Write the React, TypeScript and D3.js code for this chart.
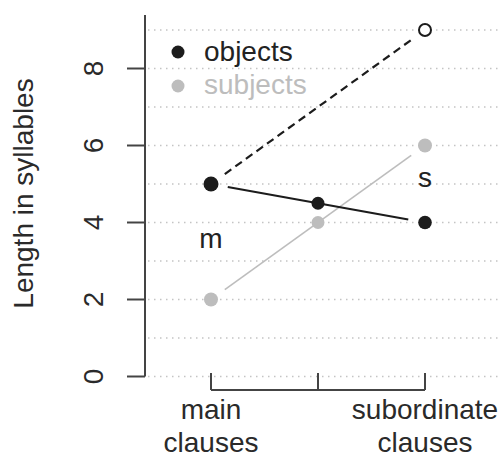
import React from "react";
import * as d3 from "d3";

const categories = ["main", "middle", "subordinate"];
const categoryLabels: Record<string, string[]> = {
  main: ["main", "clauses"],
  middle: [],
  subordinate: ["subordinate", "clauses"],
};
const objectsValues = [5, 4.5, 4];
const subjectsValues = [2, 4, 6];
const predictedValue = 9; // open circle, dashed from main objects
const yTicks = [0, 2, 4, 6, 8];
const gridValues = [0, 1, 2, 3, 4, 5, 6, 7, 8, 9];
const seriesNames = ["objects", "subjects"];
const pointLabels = [
  { text: "m", cat: "main", value: 3.33 },
  { text: "s", cat: "subordinate", value: 4.93 },
];

const W = 502;
const H = 457;
const BLACK = "#1c1c1c";
const GRAY = "#bdbdbd";
const AXIS = "#444";
const FONT = "'Liberation Sans', Arial, Helvetica, sans-serif";

function shorten(x1: number, y1: number, x2: number, y2: number, g: number) {
  const dx = x2 - x1, dy = y2 - y1;
  const L = Math.hypot(dx, dy);
  const ux = dx / L, uy = dy / L;
  return { x1: x1 + ux * g, y1: y1 + uy * g, x2: x2 - ux * g, y2: y2 - uy * g };
}

export default function App() {
  const x = d3.scalePoint<string>().domain(categories).range([211, 425]);
  const y = d3.scaleLinear().domain([0, 9]).range([376.5, 30]);
  const axisX = 145;
  const gap = 17;

  const first = categories[0];
  const last = categories[categories.length - 1];

  const objLine = shorten(x(first)!, y(objectsValues[0]), x(last)!, y(objectsValues[2]), gap);
  const subjLine = shorten(x(first)!, y(subjectsValues[0]), x(last)!, y(subjectsValues[2]), gap);
  const dashLine = shorten(x(first)!, y(objectsValues[0]), x(last)!, y(predictedValue), gap);

  const bracketY = 390;
  const bracketTop = 373;

  return (
    <svg
      width={W}
      height={H}
      style={{ position: "absolute", left: 0, top: 0, background: "#fff" }}
      fontFamily={FONT}
    >
      {/* gridlines */}
      {gridValues.map((v) => (
        <line
          key={"g" + v}
          x1={148}
          x2={W}
          y1={y(v)}
          y2={y(v)}
          stroke="#c4c4c4"
          strokeWidth={1.4}
          strokeDasharray="1.5 4.5"
        />
      ))}

      {/* y axis */}
      <line x1={axisX} x2={axisX} y1={15} y2={y(0)} stroke={AXIS} strokeWidth={2} />
      {yTicks.map((t) => (
        <g key={"t" + t}>
          <line x1={127} x2={axisX} y1={y(t)} y2={y(t)} stroke={AXIS} strokeWidth={2} />
          <text
            transform={`translate(103,${y(t)}) rotate(-90)`}
            textAnchor="middle"
            fontSize={28}
            fill="#2a2a2a"
          >
            {t}
          </text>
        </g>
      ))}
      <text
        transform={`translate(33,${(70 + 317) / 2}) rotate(-90)`}
        textAnchor="middle"
        fontSize={28}
        fill="#2a2a2a"
      >
        Length in syllables
      </text>

      {/* x bracket */}
      <line x1={x(first)!} x2={x(last)!} y1={bracketY} y2={bracketY} stroke={AXIS} strokeWidth={2} />
      {categories.map((c) => (
        <line key={"xt" + c} x1={x(c)!} x2={x(c)!} y1={bracketTop} y2={bracketY} stroke={AXIS} strokeWidth={2} />
      ))}
      {categories.map((c) =>
        categoryLabels[c].map((l, i) => (
          <text
            key={c + i}
            x={x(c)!}
            y={419 + i * 33}
            textAnchor="middle"
            fontSize={28}
            fill="#2a2a2a"
          >
            {l}
          </text>
        ))
      )}

      {/* lines */}
      <line {...dashLine} stroke={BLACK} strokeWidth={2.2} strokeDasharray="8 5" />
      <line {...subjLine} stroke={GRAY} strokeWidth={1.6} />
      <line {...objLine} stroke={BLACK} strokeWidth={2.2} />

      {/* points */}
      {subjectsValues.map((v, i) => (
        <circle key={"s" + i} cx={x(categories[i])!} cy={y(v)} r={i === 1 ? 6.5 : 7} fill={GRAY} />
      ))}
      {objectsValues.map((v, i) => (
        <circle key={"o" + i} cx={x(categories[i])!} cy={y(v)} r={i === 0 ? 7.5 : i === 1 ? 6.5 : 6.8} fill={BLACK} />
      ))}
      <circle cx={x(last)!} cy={y(predictedValue)} r={6} fill="#fff" stroke={BLACK} strokeWidth={2} />

      {/* point labels */}
      {pointLabels.map((p) => (
        <text key={p.text} x={x(p.cat)!} y={y(p.value)} textAnchor="middle" fontSize={28} fill="#222">
          {p.text}
        </text>
      ))}

      {/* legend */}
      {seriesNames.map((s, i) => (
        <g key={s}>
          <circle cx={178} cy={52 + i * 34} r={6.5} fill={i === 0 ? BLACK : GRAY} />
          <text x={204} y={61 + i * 33} fontSize={28} fill={i === 0 ? "#222" : GRAY}>
            {s}
          </text>
        </g>
      ))}
    </svg>
  );
}
